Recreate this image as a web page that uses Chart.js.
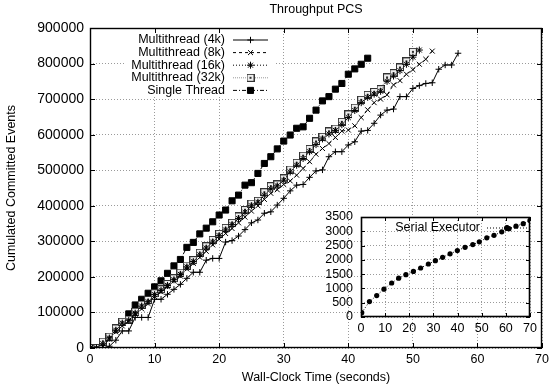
<!DOCTYPE html>
<html><head><meta charset="utf-8">
<script src="https://cdn.jsdelivr.net/npm/chart.js@4.4.0/dist/chart.umd.min.js"></script>
<style>
html,body{margin:0;padding:0;background:#fff;}
#wrap{position:relative;width:553px;height:390px;overflow:hidden;}
#main{position:absolute;left:0;top:0;}
#inset{position:absolute;left:300px;top:200px;}
</style></head><body>
<div id="wrap"><canvas id="main" width="553" height="390"></canvas><canvas id="inset" width="245" height="140"></canvas></div>
<script>
// ---- data ----
const seconds = [0,1,2,3,4,5,6,7,8,9,10,11,12,13,14,15,16,17,18,19,20,21,22,23,24,25,26,27,28,29,30,31,32,33,34,35,36,37,38,39,40,41,42,43,44,45,46,47,48,49,50,51,52,53,54,55,56,57];
const mt4k = [0,0,0,5000,22000,48000,48000,86000,86000,86000,137000,137000,151000,165000,179000,196000,213000,213000,247000,252000,252000,298000,302000,315000,333000,352000,360000,379000,383000,402000,421000,442000,458000,460000,480000,498000,501000,538000,552000,552000,571000,580000,610000,612000,632000,655000,669000,672000,707000,707000,730000,738000,744000,746000,784000,796000,796000,829000];
const mt8k = [0,0,5000,25000,45000,62000,75000,95000,110000,125000,145000,158000,172000,188000,202000,222000,238000,255000,272000,290000,306000,322000,336000,352000,368000,385000,400000,418000,435000,445000,460000,470000,486000,505000,524000,545000,561000,575000,592000,610000,613000,625000,648000,670000,690000,700000,712000,740000,752000,770000,783000,798000,812000,835000];
const mt16k = [0,0,12000,28000,50000,70000,78000,98000,118000,130000,150000,162000,176000,192000,207000,228000,243000,262000,281000,298000,316000,332000,347000,364000,382000,400000,410000,430000,448000,456000,472000,495000,514000,533000,552000,572000,588000,602000,612000,628000,648000,668000,690000,705000,714000,722000,750000,765000,780000,798000,818000,838000];
const mt32k = [0,0,18000,32000,55000,74000,80000,102000,122000,135000,154000,165000,180000,196000,212000,232000,247000,268000,286000,304000,321000,338000,352000,370000,388000,406000,414000,438000,455000,460000,477000,502000,521000,541000,560000,581000,594000,609000,617000,636000,657000,676000,698000,712000,720000,728000,761000,773000,789000,806000,833000];
const singleThread = [0,0,18000,29000,53000,74000,96000,121000,137000,154000,172000,189000,210000,231000,249000,283000,297000,321000,337000,355000,374000,388000,414000,430000,458000,465000,491000,519000,538000,560000,582000,599000,618000,622000,646000,669000,695000,707000,728000,744000,770000,785000,798000,815000];
const seriesNames = ['Multithread (4k)','Multithread (8k)','Multithread (16k)','Multithread (32k)','Single Thread'];

const serialTime = [0.3,3.5,6.5,9.5,12.7,15.6,18.6,21.7,24.7,27.9,30.8,33.8,36.9,39.9,43.1,46.3,49.0,52.1,55.1,58.3,61.3,64.2,67.2,70.0];
const serialEvents = [150,540,750,975,1190,1360,1480,1595,1715,1855,1970,2090,2210,2325,2440,2535,2630,2770,2860,2980,3090,3180,3265,3380];

const mainXTicks = [0,10,20,30,40,50,60,70];
const mainYTicks = [0,100000,200000,300000,400000,500000,600000,700000,800000,900000];
const insetXTicks = [0,10,20,30,40,50,60,70];
const insetYTicks = [0,500,1000,1500,2000,2500,3000,3500];

// ---- styles ----
const FAMILY = "'Liberation Sans', Arial, Helvetica, sans-serif";
const FONT = {family: FAMILY, size: 12.5};
const YFONT = {family: FAMILY, size: 14};

function squareDot(){
  const c = document.createElement('canvas'); c.width = 8; c.height = 8;
  const g = c.getContext('2d');
  g.fillStyle = '#eee'; g.fillRect(1,1,6,6);
  g.strokeStyle = '#333'; g.lineWidth = 1; g.strokeRect(0.5,0.5,7,7);
  g.fillStyle = '#333'; g.fillRect(3,3,2,2);
  return c;
}
const sqImg = squareDot();

function pts(vals, xs){ return vals.map((v,i)=>({x: xs[i], y: v})); }

function ds(label, vals, xs, o){
  return Object.assign({label, data: pts(vals, xs), borderColor:'#000', backgroundColor:'#000',
    borderWidth:1, pointBorderWidth:1, pointBorderColor:'#000', pointBackgroundColor:'#000',
    tension:0, fill:false}, o);
}

const datasets = [
  ds(seriesNames[0], mt4k, seconds, {borderDash:[], pointStyle:'cross', pointRadius:3.2}),
  ds(seriesNames[1], mt8k, seconds, {borderDash:[3,3], pointStyle:'crossRot', pointRadius:3.5}),
  ds(seriesNames[2], mt16k, seconds, {borderDash:[1,2], pointStyle:'star', pointRadius:3.5}),
  ds(seriesNames[3], mt32k, seconds, {borderColor:'#999', borderDash:[1,1], pointStyle:sqImg, pointRadius:4}),
  ds(seriesNames[4], singleThread, seconds, {borderDash:[4,2,1,2], pointStyle:'rect', pointRadius:4.3})
];

function framePlugin(tickLen, bw){
  return { id:'frame', afterDatasetsDraw(chart){
    const {ctx, chartArea:a, scales:{x,y}} = chart;
    ctx.save(); ctx.strokeStyle = '#000'; ctx.lineWidth = 1; ctx.setLineDash([]);
    ctx.beginPath();
    x.ticks.forEach(t => { const p = Math.round(x.getPixelForValue(t.value)) + 0.5;
      ctx.moveTo(p, a.bottom); ctx.lineTo(p, a.bottom - tickLen);
      ctx.moveTo(p, a.top); ctx.lineTo(p, a.top + tickLen); });
    y.ticks.forEach(t => { const p = Math.round(y.getPixelForValue(t.value)) + 0.5;
      ctx.moveTo(a.left, p); ctx.lineTo(a.left + tickLen, p);
      ctx.moveTo(a.right, p); ctx.lineTo(a.right - tickLen, p); });
    ctx.stroke();
    ctx.lineWidth = bw;
    ctx.strokeRect(Math.round(a.left)+0.5, Math.round(a.top)+0.5, Math.round(a.right-a.left)-1, Math.round(a.bottom-a.top)-1);
    ctx.restore();
  }};
}

function drawSample(ctx, dset, x1, x2, y){
  ctx.save();
  ctx.strokeStyle = dset.borderColor; ctx.lineWidth = dset.borderWidth || 1;
  ctx.setLineDash(dset.borderDash || []);
  ctx.beginPath(); ctx.moveTo(x1, y); ctx.lineTo(x2, y); ctx.stroke();
  ctx.setLineDash([]);
  ctx.strokeStyle = '#000'; ctx.fillStyle = '#000';
  Chart.helpers.drawPoint(ctx, {pointStyle: dset.pointStyle, radius: dset.pointRadius, rotation: 0, borderWidth: 1}, (x1+x2)/2, y);
  ctx.restore();
}

const mainLegend = { id:'mainLegend',
  beforeDatasetsDraw(chart){
    const ctx = chart.ctx; ctx.save(); ctx.fillStyle = '#fff'; ctx.fillRect(125, 29, 151, 68); ctx.restore();
  },
  afterDatasetsDraw(chart){
    const ctx = chart.ctx;
    ctx.save();
    ctx.font = `${FONT.size}px ${FAMILY}`; ctx.fillStyle = '#000';
    ctx.textAlign = 'right'; ctx.textBaseline = 'middle';
    chart.data.datasets.forEach((d, i) => {
      const y = 40 + i * 12.6;
      ctx.fillText(d.label, 225, y);
      drawSample(ctx, d, 233, 268, y);
    });
    ctx.textAlign = 'center';
    ctx.fillText('Throughput PCS', (chart.chartArea.left + chart.chartArea.right)/2, 10);
    ctx.restore();
  }
};

function axisCommon(ticksArr, pad, font){
  return {
    type:'linear', min: ticksArr[0], max: ticksArr[ticksArr.length-1],
    afterBuildTicks: s => { s.ticks = ticksArr.map(v => ({value: v})); },
    grid: {color:'#9a9a9a', lineWidth:1, drawTicks:false},
    border: {display:false, dash:[1,2]},
    ticks: {color:'#000', font: font, padding: pad, maxRotation:0, autoSkip:false, callback: v => String(v)}
  };
}

const mx = axisCommon(mainXTicks, 4, FONT);
mx.title = {display:true, text:'Wall-Clock Time (seconds)', color:'#000', font: FONT, padding:{top:0, bottom:5}};
mx.afterFit = s => { s.height = 42; };
const my = axisCommon(mainYTicks, 6, YFONT);
my.title = {display:true, text:'Cumulated Committed Events', color:'#000', font: FONT, padding:{top:4.5, bottom:0}};
my.afterFit = s => { s.width = 90; };

new Chart(document.getElementById('main'), {
  type:'line',
  data:{datasets},
  options:{
    responsive:false, animation:false, devicePixelRatio:1, events:[],
    layout:{padding:{left:0, right:8, top:28, bottom:0}},
    plugins:{legend:{display:false}, tooltip:{enabled:false}, title:{display:false}},
    scales:{x: mx, y: my}
  },
  plugins:[framePlugin(5, 1.4), mainLegend]
});

// ---- inset ----
const insetDs = {label:'Serial Executor', data: pts(serialEvents, serialTime), borderColor:'#000', backgroundColor:'#000',
  borderWidth:1, borderDash:[1,2], pointStyle:'circle', pointRadius:2.6, pointBorderWidth:0,
  pointBackgroundColor:'#000', tension:0, fill:false};

const insetBg = { id:'insetBg', beforeDraw(chart){
  const {ctx, chartArea:a} = chart; ctx.save(); ctx.fillStyle = '#fff';
  ctx.fillRect(a.left, a.top, a.right - a.left, a.bottom - a.top); ctx.restore(); } };
const insetLegend = { id:'insetLegend', afterDatasetsDraw(chart){
  const ctx = chart.ctx; ctx.save();
  ctx.font = `${FONT.size}px ${FAMILY}`; ctx.fillStyle = '#000'; ctx.textAlign = 'right'; ctx.textBaseline = 'middle';
  ctx.fillText('Serial Executor', 180, 28);
  drawSample(ctx, chart.data.datasets[0], 187, 227, 28);
  ctx.restore(); } };

const ix = axisCommon(insetXTicks, 4, FONT); ix.afterFit = s => { s.height = 23; };
const iy = axisCommon(insetYTicks, 8, FONT); iy.afterFit = s => { s.width = 61; };

new Chart(document.getElementById('inset'), {
  type:'line',
  data:{datasets:[insetDs]},
  options:{
    responsive:false, animation:false, devicePixelRatio:1, events:[],
    layout:{padding:{left:0, right:15, top:17, bottom:0}},
    plugins:{legend:{display:false}, tooltip:{enabled:false}},
    scales:{x: ix, y: iy}
  },
  plugins:[insetBg, framePlugin(4, 1.6), insetLegend]
});
</script>
</body></html>
